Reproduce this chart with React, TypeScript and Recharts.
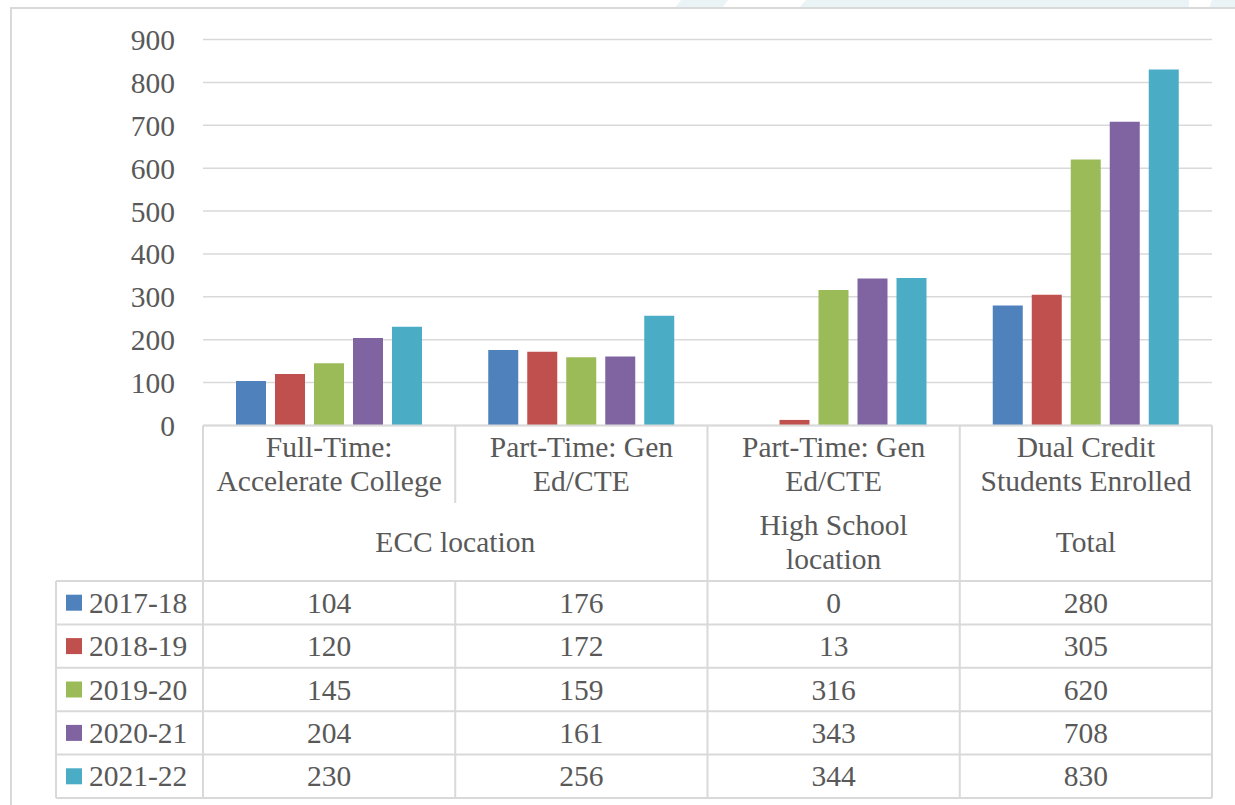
import { BarChart, Bar, XAxis, YAxis, CartesianGrid } from 'recharts';

// category labels (split in lines as in the data table header)
const categoryLines = [
  ['Full-Time:', 'Accelerate College'],
  ['Part-Time: Gen', 'Ed/CTE'],
  ['Part-Time: Gen', 'Ed/CTE'],
  ['Dual Credit', 'Students Enrolled'],
];

// second header row: group label lines and how many categories it covers
const groupLines = [['ECC location'], ['High School', 'location'], ['Total']];
const groupSpans = [2, 1, 1];

const seriesNames = ['2017-18', '2018-19', '2019-20', '2020-21', '2021-22'];
const s1718 = [104, 176, 0, 280];
const s1819 = [120, 172, 13, 305];
const s1920 = [145, 159, 316, 620];
const s2021 = [204, 161, 343, 708];
const s2122 = [230, 256, 344, 830];
const seriesValues = [s1718, s1819, s1920, s2021, s2122];

const yTicks = [0, 100, 200, 300, 400, 500, 600, 700, 800, 900];

const colors = ['#4F81BD', '#C0504D', '#9BBB59', '#8064A2', '#4BACC6'];

const data = categoryLines.map((_, i) => {
  const row: Record<string, number | string> = { name: `cat${i}` };
  seriesNames.forEach((s, k) => {
    row[s] = seriesValues[k][i];
  });
  return row;
});

const W = 1235;
const H = 805;
const plotLeft = 203;
const plotRight = 1212;
const plotTop = 39.5;
const plotBottom = 425.5;
const colW = (plotRight - plotLeft) / categoryLines.length;

const font = '"Liberation Serif", "Times New Roman", serif';
const fontSize = 29.5;
const textColor = '#595959';
const lineColor = '#d9d9d9';

const tableLeft = 56;
const rowTop = 581;
const rowH = 43.4;

function DataTable() {
  const colX = (i: number) => plotLeft + i * colW;
  const lines: JSX.Element[] = [];
  const texts: JSX.Element[] = [];
  // header row 1
  lines.push(<line key="top" x1={plotLeft} x2={plotRight} y1={plotBottom} y2={plotBottom} />);
  for (let i = 0; i <= categoryLines.length; i++) {
    lines.push(<line key={`h1v${i}`} x1={colX(i)} x2={colX(i)} y1={plotBottom} y2={503} />);
  }
  categoryLines.forEach((ls, i) => {
    ls.forEach((t, j) => {
      texts.push(
        <text key={`c${i}-${j}`} x={colX(i) + colW / 2} y={447 + j * 34} textAnchor="middle" dominantBaseline="central">
          {t}
        </text>
      );
    });
  });
  // header row 2
  let start = 0;
  groupLines.forEach((ls, g) => {
    const x0 = colX(start);
    const x1 = colX(start + groupSpans[g]);
    lines.push(<line key={`h2v${g}`} x1={x0} x2={x0} y1={503} y2={rowTop} />);
    const cy = 542;
    ls.forEach((t, j) => {
      texts.push(
        <text
          key={`g${g}-${j}`}
          x={(x0 + x1) / 2}
          y={cy + (j - (ls.length - 1) / 2) * 34}
          textAnchor="middle"
          dominantBaseline="central"
        >
          {t}
        </text>
      );
    });
    start += groupSpans[g];
  });
  lines.push(<line key="h2right" x1={plotRight} x2={plotRight} y1={503} y2={rowTop} />);
  // data rows
  const bottom = rowTop + rowH * seriesNames.length;
  for (let r = 0; r <= seriesNames.length; r++) {
    const y = rowTop + r * rowH;
    lines.push(<line key={`rh${r}`} x1={tableLeft} x2={plotRight} y1={y} y2={y} />);
  }
  lines.push(<line key="rvL" x1={tableLeft} x2={tableLeft} y1={rowTop} y2={bottom} />);
  for (let i = 0; i <= categoryLines.length; i++) {
    lines.push(<line key={`rv${i}`} x1={colX(i)} x2={colX(i)} y1={rowTop} y2={bottom} />);
  }
  seriesNames.forEach((s, r) => {
    const cy = rowTop + r * rowH + rowH / 2;
    texts.push(<rect key={`k${r}`} x={66} y={cy - 8} width={16} height={16} fill={colors[r]} stroke="none" />);
    texts.push(
      <text key={`n${r}`} x={89} y={cy} dominantBaseline="central">
        {s}
      </text>
    );
    seriesValues[r].forEach((v, i) => {
      texts.push(
        <text key={`v${r}-${i}`} x={colX(i) + colW / 2} y={cy} textAnchor="middle" dominantBaseline="central">
          {v}
        </text>
      );
    });
  });
  return (
    <svg width={W} height={H} style={{ position: 'absolute', left: 0, top: 0, pointerEvents: 'none' }}>
      {/* faint watermark strip at the very top */}
      <polygon points="681,0 728,0 722,8 675,8" fill="#eaf3f6" />
      <polygon points="806,0 1189,0 1189,8 799,8" fill="#eaf3f6" />
      <polygon points="1212,0 1235,0 1235,8 1209,8" fill="#eaf3f6" />
      <rect x={11} y={8} width={1300} height={900} fill="none" stroke={lineColor} strokeWidth={2} />
      <g stroke={lineColor} strokeWidth={2}>{lines}</g>
      <g fill={textColor} fontFamily={font} fontSize={fontSize}>
        {texts}
      </g>
    </svg>
  );
}

export default function App() {
  return (
    <div style={{ position: 'relative', width: W, height: H, background: '#fff', overflow: 'hidden' }}>
      <style>{'body{margin:0}'}</style>
      <BarChart
        width={W}
        height={H}
        data={data}
        margin={{ top: plotTop, right: W - plotRight, bottom: H - plotBottom, left: 0 }}
        barSize={30}
        barGap={9}
      >
        <CartesianGrid vertical={false} stroke={lineColor} strokeWidth={1.5} />
        <XAxis dataKey="name" hide />
        <YAxis
          width={plotLeft}
          domain={[0, 900]}
          ticks={yTicks}
          interval={0}
          axisLine={false}
          tickLine={false}
          tickSize={6}
          tickMargin={22}
          tick={{ fill: textColor, fontSize, fontFamily: font }}
        />
        {seriesNames.map((s, k) => (
          <Bar key={s} dataKey={s} fill={colors[k]} isAnimationActive={false} />
        ))}
      </BarChart>
      <DataTable />
    </div>
  );
}
